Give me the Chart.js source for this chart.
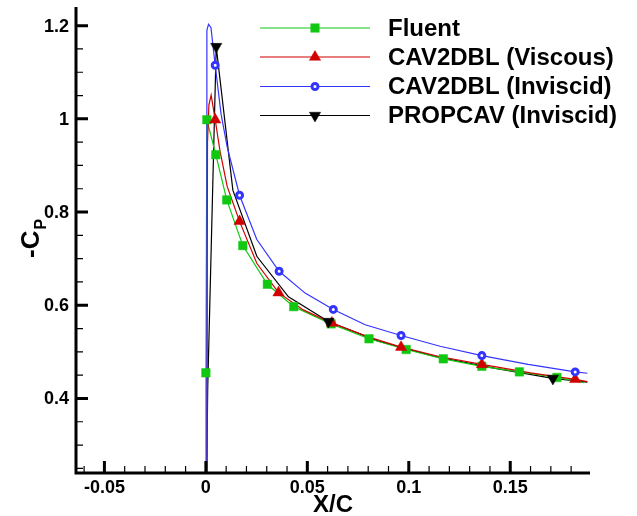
<!DOCTYPE html>
<html>
<head>
<meta charset="utf-8">
<script src="https://cdn.jsdelivr.net/npm/chart.js@4.4.1/dist/chart.umd.min.js"></script>
<style>
  html, body { margin: 0; padding: 0; background: #fff; }
  #wrap { width: 637px; height: 516px; position: relative; }
</style>
</head>
<body>
<div id="wrap"><canvas id="cpChart"></canvas></div>
<script>
// axis ranges and labelled ticks
const xRange = [-0.064, 0.1893];
const yRange = [0.24, 1.24];
const xTickValues = [-0.05, 0, 0.05, 0.1, 0.15];
const xTickLabels = ['-0.05', '0', '0.05', '0.1', '0.15'];
const yTickValues = [0.4, 0.6, 0.8, 1, 1.2];
const yTickLabels = ['0.4', '0.6', '0.8', '1', '1.2'];

const seriesNames = ['Fluent', 'CAV2DBL (Viscous)', 'CAV2DBL (Inviscid)', 'PROPCAV (Inviscid)'];

// Fluent
const fluentLineX = [0, 0, 0.0005, 0.0049, 0.0103, 0.0182, 0.0303, 0.0433, 0.0617, 0.0804, 0.0987, 0.117, 0.136, 0.1545, 0.173, 0.1864];
const fluentLineY = [0.2, 0.455, 0.998, 0.923, 0.826, 0.728, 0.645, 0.597, 0.560, 0.528, 0.505, 0.485, 0.469, 0.457, 0.445, 0.434];
const fluentMarkX = [0, 0.0005, 0.0049, 0.0103, 0.0182, 0.0303, 0.0433, 0.0617, 0.0804, 0.0987, 0.117, 0.136, 0.1545, 0.173];
const fluentMarkY = [0.455, 0.998, 0.923, 0.826, 0.728, 0.645, 0.597, 0.560, 0.528, 0.505, 0.485, 0.469, 0.457, 0.445];

// CAV2DBL viscous
const viscousLineX = [0.0005, 0.0008, 0.0015, 0.0026, 0.0046, 0.007, 0.0105, 0.0166, 0.0251, 0.0358, 0.048, 0.0621, 0.08, 0.0962, 0.115, 0.136, 0.16, 0.182, 0.188];
const viscousLineY = [0.2, 0.95, 1.03, 1.051, 0.998, 0.93, 0.855, 0.780, 0.690, 0.627, 0.590, 0.562, 0.532, 0.510, 0.490, 0.473, 0.455, 0.441, 0.436];
const viscousMarkX = [0.0046, 0.0166, 0.0358, 0.0621, 0.0962, 0.136, 0.182];
const viscousMarkY = [0.998, 0.780, 0.627, 0.562, 0.510, 0.473, 0.441];

// CAV2DBL inviscid
const inviscidLineX = [0.0005, 0.0005, 0.0013, 0.0025, 0.0046, 0.0075, 0.0105, 0.0166, 0.0251, 0.0361, 0.0489, 0.0628, 0.0785, 0.0962, 0.1154, 0.136, 0.1588, 0.182, 0.188];
const inviscidLineY = [0.2, 1.19, 1.203, 1.196, 1.115, 1.01, 0.94, 0.836, 0.741, 0.673, 0.626, 0.591, 0.558, 0.535, 0.512, 0.492, 0.473, 0.457, 0.454];
const inviscidMarkX = [0.0046, 0.0166, 0.0361, 0.0628, 0.0962, 0.136, 0.182];
const inviscidMarkY = [1.115, 0.836, 0.673, 0.591, 0.535, 0.492, 0.457];

// PROPCAV
const propcavLineX = [0.0003, 0.0009, 0.0051, 0.0133, 0.0251, 0.0407, 0.0604, 0.085, 0.113, 0.142, 0.171, 0.188];
const propcavLineY = [0.2, 0.42, 1.155, 0.847, 0.705, 0.618, 0.565, 0.523, 0.490, 0.465, 0.443, 0.435];
const propcavMarkX = [0.0051, 0.0604, 0.171];
const propcavMarkY = [1.155, 0.565, 0.443];

const FONT = '"Liberation Sans", Arial, Helvetica, sans-serif';
const GREEN = '#10c810';
const RED = '#d00000';
const BLUE = '#3434ff';
const BLACK = '#000000';

function pts(xs, ys) {
  return xs.map((v, i) => ({ x: v, y: ys[i] }));
}

function lineSet(xs, ys, color, order) {
  return {
    data: pts(xs, ys),
    showLine: true,
    borderColor: color,
    borderWidth: 1.2,
    pointRadius: 0,
    fill: false,
    order: order
  };
}

const markerStyles = [
  { pointStyle: 'rect', radius: 6, rotation: 0, fill: GREEN, stroke: GREEN, border: 0.5 },
  { pointStyle: 'triangle', radius: 6.5, rotation: 0, fill: RED, stroke: RED, border: 0.5 },
  { pointStyle: 'circle', radius: 3, rotation: 0, fill: '#ffffff', stroke: BLUE, border: 3 },
  { pointStyle: 'triangle', radius: 6.5, rotation: 180, fill: BLACK, stroke: BLACK, border: 0.5 }
];

function markSet(xs, ys, st, order) {
  return {
    data: pts(xs, ys),
    showLine: false,
    pointStyle: st.pointStyle,
    pointRadius: st.radius,
    pointRotation: st.rotation,
    pointBackgroundColor: st.fill,
    pointBorderColor: st.stroke,
    pointBorderWidth: st.border,
    order: order
  };
}

// draws the Tecplot-like axes, ticks, titles and legend
const tecplotFrame = {
  id: 'tecplotFrame',
  afterDraw(chart) {
    const ctx = chart.ctx;
    const a = chart.chartArea;
    const xs = chart.scales.x;
    const ys = chart.scales.y;
    ctx.save();
    ctx.strokeStyle = '#000';
    ctx.fillStyle = '#000';

    // minor ticks
    ctx.lineWidth = 1.2;
    ctx.beginPath();
    for (let i = -6; i <= 18; i++) {
      if (i % 5 === 0) continue;
      const px = xs.getPixelForValue(i / 100);
      ctx.moveTo(px, a.bottom);
      ctx.lineTo(px, a.bottom - 7);
    }
    for (let i = 5; i <= 24; i++) {
      if (i % 4 === 0) continue;
      const py = ys.getPixelForValue(i / 20);
      ctx.moveTo(a.left, py);
      ctx.lineTo(a.left + 7, py);
    }
    ctx.stroke();

    // major ticks
    ctx.lineWidth = 3;
    ctx.beginPath();
    xTickValues.forEach(v => {
      const px = xs.getPixelForValue(v);
      ctx.moveTo(px, a.bottom);
      ctx.lineTo(px, a.bottom - 12);
    });
    yTickValues.forEach(v => {
      const py = ys.getPixelForValue(v);
      ctx.moveTo(a.left, py);
      ctx.lineTo(a.left + 12, py);
    });
    ctx.stroke();

    // axis lines
    ctx.lineWidth = 3;
    ctx.beginPath();
    ctx.moveTo(a.left, a.top);
    ctx.lineTo(a.left, a.bottom);
    ctx.lineTo(a.right, a.bottom);
    ctx.stroke();

    // tick labels
    ctx.font = 'bold 18px ' + FONT;
    ctx.textAlign = 'center';
    ctx.textBaseline = 'middle';
    xTickValues.forEach((v, i) => {
      ctx.fillText(xTickLabels[i], xs.getPixelForValue(v), a.bottom + 15);
    });
    ctx.textAlign = 'right';
    yTickValues.forEach((v, i) => {
      ctx.fillText(yTickLabels[i], a.left - 7, ys.getPixelForValue(v) + 1);
    });

    // axis titles
    ctx.font = 'bold 24px ' + FONT;
    ctx.textAlign = 'center';
    ctx.fillText('X/C', (a.left + a.right) / 2, 505);

    ctx.save();
    ctx.translate(39, 258);
    ctx.rotate(-Math.PI / 2);
    ctx.textAlign = 'left';
    ctx.textBaseline = 'alphabetic';
    ctx.font = 'bold 26px ' + FONT;
    ctx.fillText('-C', 0, 0);
    const w = ctx.measureText('-C').width;
    ctx.font = 'bold 16px ' + FONT;
    ctx.fillText('P', w + 1, 7);
    ctx.restore();

    // legend
    const colors = [GREEN, RED, BLUE, BLACK];
    const rows = [28, 57, 86.5, 115.5];
    ctx.font = 'bold 24px ' + FONT;
    ctx.textAlign = 'left';
    ctx.textBaseline = 'middle';
    rows.forEach((ry, i) => {
      ctx.strokeStyle = colors[i];
      ctx.lineWidth = 1.2;
      ctx.beginPath();
      ctx.moveTo(260, ry);
      ctx.lineTo(370, ry);
      ctx.stroke();
      const st = markerStyles[i];
      ctx.fillStyle = st.fill;
      ctx.strokeStyle = st.stroke;
      ctx.lineWidth = st.border;
      Chart.helpers.drawPoint(ctx, {
        pointStyle: st.pointStyle,
        radius: st.radius,
        rotation: st.rotation,
        borderWidth: st.border
      }, 315, ry);
      ctx.fillStyle = '#000';
      ctx.fillText(seriesNames[i], 388, ry + 1);
    });

    ctx.restore();
  }
};

const ctx = document.getElementById('cpChart');
new Chart(ctx, {
  type: 'scatter',
  data: {
    datasets: [
      lineSet(fluentLineX, fluentLineY, GREEN, 7),
      lineSet(viscousLineX, viscousLineY, RED, 6),
      lineSet(inviscidLineX, inviscidLineY, BLUE, 5),
      lineSet(propcavLineX, propcavLineY, BLACK, 8),
      markSet(fluentMarkX, fluentMarkY, markerStyles[0], 4),
      markSet(viscousMarkX, viscousMarkY, markerStyles[1], 3),
      markSet(inviscidMarkX, inviscidMarkY, markerStyles[2], 2),
      markSet(propcavMarkX, propcavMarkY, markerStyles[3], 1)
    ]
  },
  options: {
    responsive: true,
    maintainAspectRatio: false,
    animation: false,
    events: [],
    layout: {
      padding: { left: 76, right: 47, top: 5, bottom: 43 }
    },
    plugins: {
      legend: { display: false },
      tooltip: { enabled: false }
    },
    scales: {
      x: { type: 'linear', display: false, min: xRange[0], max: xRange[1] },
      y: { type: 'linear', display: false, min: yRange[0], max: yRange[1] }
    }
  },
  plugins: [tecplotFrame]
});
</script>
</body>
</html>
